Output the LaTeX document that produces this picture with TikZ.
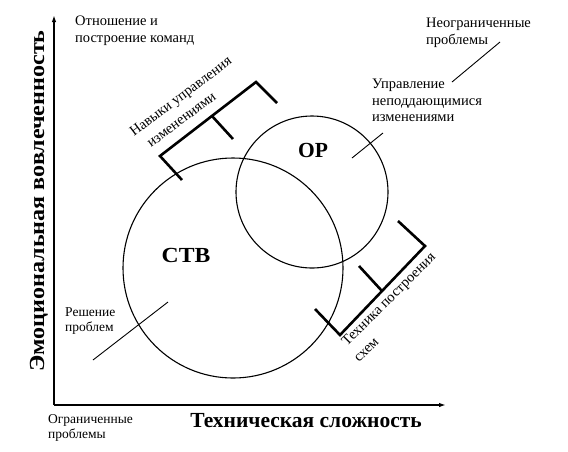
\documentclass[tikz,border=0pt]{standalone}
\usepackage{fontspec}
\setmainfont{Liberation Serif}
\usetikzlibrary{arrows.meta}
\begin{document}
\begin{tikzpicture}[x=1pt,y=-1pt,
  lbl/.style={font=\fontsize{14.5}{16.5}\selectfont, align=left, inner sep=0pt},
  lbls/.style={font=\fontsize{13.5}{15.5}\selectfont, align=left, inner sep=0pt},
  big/.style={font=\fontsize{21.5}{24}\selectfont\bfseries, inner sep=0pt},
  axis/.style={line width=1.4pt, -{Latex[length=7pt,width=4.5pt]}},
  circ/.style={draw, circle, line width=1.1pt, inner sep=0pt},
  brk/.style={line width=2.6pt, line join=miter},
  ptr/.style={line width=0.9pt}]
\useasboundingbox (0,0) rectangle (568,451);
% axes
\coordinate (O) at (54,405);
\coordinate (ytip) at (54,15);
\coordinate (xtip) at (446,405);
\draw[axis] (O) -- (ytip);
\draw[axis] (O) -- (xtip);
\node[big, rotate=90, xscale=1.12] (ylab) at (39,201) {Эмоциональная вовлеченность};
\node[big] (xlab) at (306,421) {Техническая сложность};
% circles
\node[circ, minimum size=220pt] (ctb) at (233,268) {};
\node[circ, minimum size=152pt] (or) at (312,192) {};
\node[big, xscale=1.1] (ctbt) at (186,255) {СТВ};
\node[big] (ort) at (313,150) {ОР};
% labels
\node[lbl, anchor=north west] (rel) at (75,16) {Отношение и\\построение команд};
\node[lbl, anchor=north west] (unl) at (426,18) {Неограниченные\\проблемы};
\node[lbl, anchor=north west] (upr) at (372,79) {Управление\\неподдающимися\\изменениями};
\node[lbls, anchor=north west] (res) at (65,307) {Решение\\проблем};
\node[lbls, anchor=north west] (lim) at (48,414) {Ограниченные\\проблемы};
% pointer lines
\coordinate (p1a) at (452,82); \coordinate (p1b) at (500,42);
\coordinate (p2a) at (383,133); \coordinate (p2b) at (352,158);
\coordinate (p3a) at (93,360); \coordinate (p3b) at (168,302);
\draw[ptr] (p1a) -- (p1b);
\draw[ptr] (p2a) -- (p2b);
\draw[ptr] (p3a) -- (p3b);
% bracket 1
\coordinate (a1) at (182,180); \coordinate (a2) at (160,156);
\coordinate (a3) at (256,82); \coordinate (a4) at (277,103);
\coordinate (at1) at (212,116); \coordinate (at2) at (233,139);
\draw[brk] (a1) -- (a2) -- (a3) -- (a4);
\draw[brk] (at1) -- (at2);
\node[lbl, rotate=37, anchor=base west] (nav1) at (134,137) {Навыки управления};
\node[lbl, rotate=37, anchor=base west] (nav2) at (151,148) {изменениями};
% bracket 2
\coordinate (b1) at (315,309); \coordinate (b2) at (340,335);
\coordinate (b3) at (425,246); \coordinate (b4) at (398,221);
\coordinate (bt1) at (382,291); \coordinate (bt2) at (359,266);
\draw[brk] (b1) -- (b2) -- (b3) -- (b4);
\draw[brk] (bt1) -- (bt2);
\node[lbl, rotate=45, anchor=base west] (tex1) at (347,347) {Техника построения};
\node[lbl, rotate=45, anchor=base west] (tex2) at (359,363) {схем};
\end{tikzpicture}
\end{document}
